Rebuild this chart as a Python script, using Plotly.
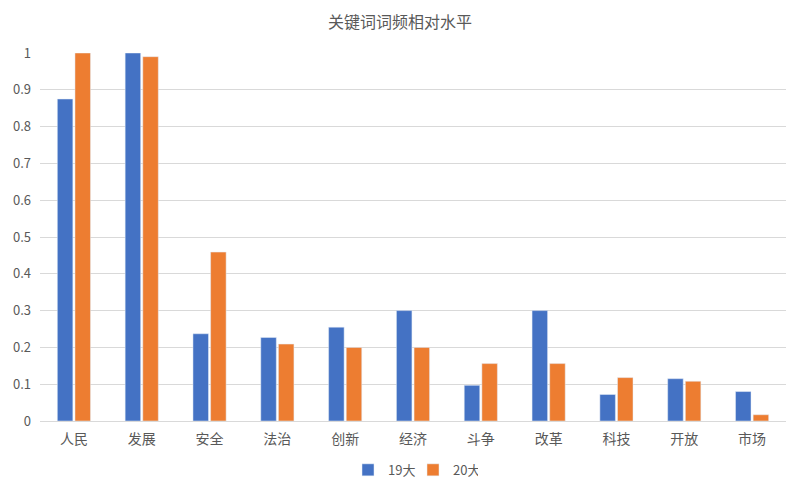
import plotly.graph_objects as go

categories = ["人民", "发展", "安全", "法治", "创新", "经济", "斗争", "改革", "科技", "开放", "市场"]
series_19 = [0.875, 1.0, 0.237, 0.227, 0.255, 0.300, 0.097, 0.300, 0.072, 0.115, 0.080]
series_20 = [1.0, 0.990, 0.459, 0.209, 0.200, 0.200, 0.156, 0.156, 0.118, 0.108, 0.017]
series_names = ["19大", "20大"]
y_ticks = [0, 0.1, 0.2, 0.3, 0.4, 0.5, 0.6, 0.7, 0.8, 0.9, 1]
y_tick_labels = ["0", "0.1", "0.2", "0.3", "0.4", "0.5", "0.6", "0.7", "0.8", "0.9", "1"]

font_family = "Noto Sans CJK SC, Noto Sans, sans-serif"
text_color = "#595959"

fig = go.Figure()
fig.add_trace(go.Bar(x=categories, y=series_19, name=series_names[0], marker_color="#4472C4"))
fig.add_trace(go.Bar(x=categories, y=series_20, name=series_names[1], marker_color="#ED7D31"))

fig.update_layout(
    width=800, height=491,
    paper_bgcolor="white", plot_bgcolor="white",
    margin=dict(l=40, r=14, t=53, b=70, autoexpand=False),
    barmode="group", bargap=0.48, bargroupgap=0.12,
    font=dict(family=font_family, color=text_color, size=12),
    title=dict(text="关键词词频相对水平", x=0.5, xanchor="center", y=0.955, yanchor="middle",
               font=dict(size=16, color=text_color, family=font_family)),
    legend=dict(orientation="h", x=0.5, xanchor="center", yref="container", y=0.043, yanchor="middle",
                font=dict(size=13, color=text_color), itemwidth=30, traceorder="normal",
                entrywidth=20, entrywidthmode="pixels"),
    xaxis=dict(showgrid=False, showline=True, linecolor="#D9D9D9", linewidth=1, automargin=False,
               ticks="", tickfont=dict(size=14, color=text_color), ticklabelstandoff=5),
    yaxis=dict(range=[0, 1.0], tickvals=y_ticks, ticktext=y_tick_labels, automargin=False,
               showgrid=True, gridcolor="#D9D9D9", gridwidth=1, zeroline=False,
               showline=False, ticks="", tickfont=dict(size=13, color=text_color),
               ticklabelstandoff=8),
)

fig.write_html("out.html", config={"displayModeBar": False},
               post_script="document.body.style.margin='0';")
